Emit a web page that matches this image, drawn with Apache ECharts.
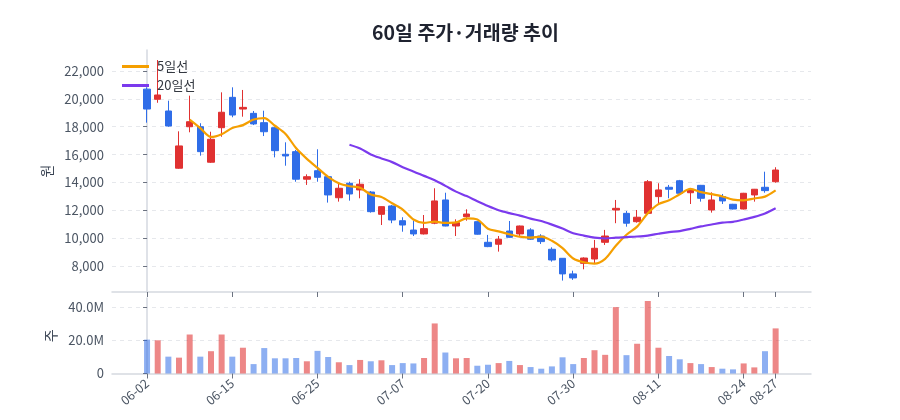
<!DOCTYPE html>
<html>
<head>
<meta charset="utf-8">
<script src="https://cdn.jsdelivr.net/npm/echarts@6/dist/echarts.min.js"></script>
<style>
	html, body { margin: 0; padding: 0; background: #fff; }
	#chart { width: 900px; height: 420px; }
</style>
</head>
<body>
<div id="chart"></div>
<script>
// 60 trading days
const dates = ['06-02','06-03','06-05','06-07','06-08','06-09','06-10','06-12','06-15','06-16',
	'06-17','06-18','06-19','06-22','06-23','06-24','06-25','06-26','06-29','06-30',
	'07-01','07-02','07-03','07-06','07-07','07-08','07-09','07-10','07-13','07-14',
	'07-15','07-16','07-20','07-21','07-22','07-23','07-24','07-27','07-28','07-29',
	'07-30','07-31','08-03','08-04','08-05','08-06','08-07','08-10','08-11','08-12',
	'08-13','08-14','08-17','08-18','08-19','08-20','08-24','08-25','08-26','08-27'];

const opens = [20700,19970,19130,15020,18000,18000,15450,17930,20110,19270,
	18960,18290,17930,16020,16210,14230,14840,14410,12900,13940,
	13460,13310,11710,12310,11250,10580,10300,11070,12740,10870,
	11540,11180,9700,9560,10510,10300,10590,10150,9200,8550,
	7430,8190,8500,9700,12020,11780,11180,11780,12980,13650,
	14120,13260,13790,12020,12980,12430,12090,13100,13650,14050];

const closes = [19270,20280,18050,16620,18360,16210,17100,19040,18840,19390,
	18200,17640,16280,15900,14230,14410,14370,13100,13580,13170,
	13870,11900,12260,11300,10940,10300,10680,12670,10870,11110,
	11730,10280,9390,9920,10060,10870,9920,9750,8430,7430,
	7140,8570,9270,10150,12140,11070,11500,14050,13460,13510,
	13220,13460,12860,12740,12670,12090,13220,13510,13410,14890];

const lows = [18290,19720,18000,14980,17600,15920,15400,17280,18680,18720,
	18120,17330,15800,15200,14050,13820,14050,12550,12620,12690,
	12860,11830,10940,11070,10460,10150,10260,11000,10850,10150,
	11250,10250,9350,9030,10030,10060,9870,9580,8310,6950,
	7000,7760,8190,9510,11070,10820,11110,11730,12380,12860,
	13200,12450,12620,11830,12450,12060,12060,12620,13260,13980];

const highs = [20830,22790,19870,17670,20230,18250,17640,20470,20830,20640,
	19130,19150,17960,16880,16330,14580,16380,14450,13940,14050,
	14230,13380,12280,12380,11500,11250,11660,13580,13260,11350,
	12070,11200,10230,10150,11230,10900,10710,10280,9340,8560,
	7660,8620,9870,10590,12740,11950,12020,14170,13940,13820,
	14180,13580,13820,13290,13170,12460,13250,13530,14770,15090];

const volumes = [20500000,20100000,10200000,9600000,23600000,10200000,13500000,23600000,10200000,15600000,
	5700000,15400000,9200000,9200000,9400000,7400000,13700000,10000000,6800000,5100000,
	8200000,7400000,8000000,5100000,6300000,6100000,9400000,30300000,12700000,9200000,
	9400000,4700000,5300000,6300000,7600000,5100000,3900000,2900000,4300000,9800000,
	5700000,9400000,14100000,11300000,40200000,11100000,18000000,43900000,15600000,10600000,
	8600000,6300000,5700000,3900000,2900000,2500000,6100000,3700000,13500000,27300000];

// which days get a date label / tick
const labelDays = [0, 8, 16, 24, 32, 40, 48, 56, 59];

const UP = '#e03131';
const DOWN = '#2f6de8';
const MA5_COLOR = '#f59f00';
const MA20_COLOR = '#7b3aed';
const FONT = "'Noto Sans CJK KR', 'Noto Sans', sans-serif";

function movingAvg(n) {
	let out = [];
	for (let i = n - 1; i < closes.length; i++) {
		let sum = 0;
		for (let j = i - n + 1; j <= i; j++) sum += closes[j];
		out.push([i, Math.round(sum / n)]);
	}
	return out;
}

let candles = closes.map((c, i) => [i, opens[i], c, lows[i], highs[i]]);
let volBars = volumes.map((v, i) => ({
	value: [i, v],
	itemStyle: { color: closes[i] >= opens[i] ? 'rgba(224,49,49,0.58)' : 'rgba(47,109,232,0.55)' }
}));

let myChart = echarts.init(document.getElementById('chart'));

let axisLineStyle = { color: '#d5d9e0', width: 1.5 };
let splitStyle = { type: [4, 4], color: '#e6e8ec' };

option = {
	animation: false,
	textStyle: { fontFamily: FONT },
	title: {
		text: '60일 주가·거래량 추이',
		left: 367,
		top: 18,
		textStyle: { fontFamily: FONT, fontSize: 19.5, fontWeight: 'bold', color: '#1f2330' }
	},
	legend: {
		orient: 'vertical',
		left: 122,
		top: 60,
		padding: 0,
		itemWidth: 27,
		itemHeight: 3,
		itemGap: 6,
		data: [
			{ name: '5일선', icon: 'rect', itemStyle: { color: MA5_COLOR } },
			{ name: '20일선', icon: 'rect', itemStyle: { color: MA20_COLOR } }
		],
		textStyle: { fontFamily: FONT, fontSize: 13, color: '#333840', padding: [0, 0, 0, 3] }
	},
	grid: [
		{ left: 112, right: 89, top: 50, height: 242 },
		{ left: 112, right: 89, top: 298, height: 75.5 }
	],
	xAxis: [
		{
			type: 'value',
			gridIndex: 0,
			min: -3.29,
			max: 62.32,
			axisLine: { show: true, lineStyle: axisLineStyle },
			axisTick: { show: true, customValues: labelDays, length: 5, lineStyle: { color: '#6b7280' } },
			axisLabel: { show: false },
			splitLine: { show: false }
		},
		{
			type: 'value',
			gridIndex: 1,
			min: -3.29,
			max: 62.32,
			axisLine: { show: true, lineStyle: axisLineStyle },
			axisTick: { show: true, customValues: labelDays, length: 5, lineStyle: { color: '#6b7280' } },
			axisLabel: {
				customValues: labelDays,
				rotate: 40,
				fontSize: 12.5,
				color: '#4b5563',
				margin: 8,
				formatter: (v) => dates[Math.round(v)]
			},
			splitLine: { show: false }
		}
	],
	yAxis: [
		{
			type: 'value',
			gridIndex: 0,
			min: 6130,
			max: 23510,
			splitNumber: 8,
			name: '원',
			nameLocation: 'middle',
			nameGap: 53,
			nameTextStyle: { fontSize: 14, color: '#374151' },
			axisLine: { show: true, lineStyle: axisLineStyle },
			axisTick: { show: true, length: 4, lineStyle: { color: '#6b7280' } },
			axisLabel: {
				fontSize: 13,
				color: '#4b5563',
				showMinLabel: false,
				showMaxLabel: false,
				formatter: (v) => v.toLocaleString('en-US')
			},
			splitLine: { show: true, showMinLine: false, showMaxLine: false, lineStyle: splitStyle }
		},
		{
			type: 'value',
			gridIndex: 1,
			min: 0,
			max: 45700000,
			interval: 20000000,
			name: '주',
			nameLocation: 'middle',
			nameGap: 53,
			nameTextStyle: { fontSize: 14, color: '#374151' },
			axisLine: { show: true, lineStyle: axisLineStyle },
			axisTick: { show: true, length: 4, lineStyle: { color: '#6b7280' } },
			axisLabel: {
				fontSize: 13,
				color: '#4b5563',
				showMaxLabel: false,
				formatter: (v) => v === 0 ? '0' : (v / 1000000).toFixed(1) + 'M'
			},
			splitLine: { show: true, showMinLine: false, showMaxLine: false, lineStyle: splitStyle }
		}
	],
	series: [
		{
			name: '주가',
			type: 'candlestick',
			xAxisIndex: 0,
			yAxisIndex: 0,
			barWidth: 7,
			clip: true,
			data: candles,
			itemStyle: {
				color: UP,
				color0: DOWN,
				borderColor: UP,
				borderColor0: DOWN,
				borderWidth: 1
			}
		},
		{
			name: '5일선',
			type: 'line',
			xAxisIndex: 0,
			yAxisIndex: 0,
			data: movingAvg(5),
			symbol: 'none',
			smooth: 0.3,
			color: MA5_COLOR,
			lineStyle: { width: 2.2, color: MA5_COLOR },
			z: 5
		},
		{
			name: '20일선',
			type: 'line',
			xAxisIndex: 0,
			yAxisIndex: 0,
			data: movingAvg(20),
			symbol: 'none',
			smooth: 0.3,
			color: MA20_COLOR,
			lineStyle: { width: 2.2, color: MA20_COLOR },
			z: 5
		},
		{
			name: '거래량',
			type: 'bar',
			xAxisIndex: 1,
			yAxisIndex: 1,
			barWidth: 6,
			data: volBars
		}
	]
};
myChart.setOption(option);
window.onresize = myChart.resize;
</script>
</body>
</html>
